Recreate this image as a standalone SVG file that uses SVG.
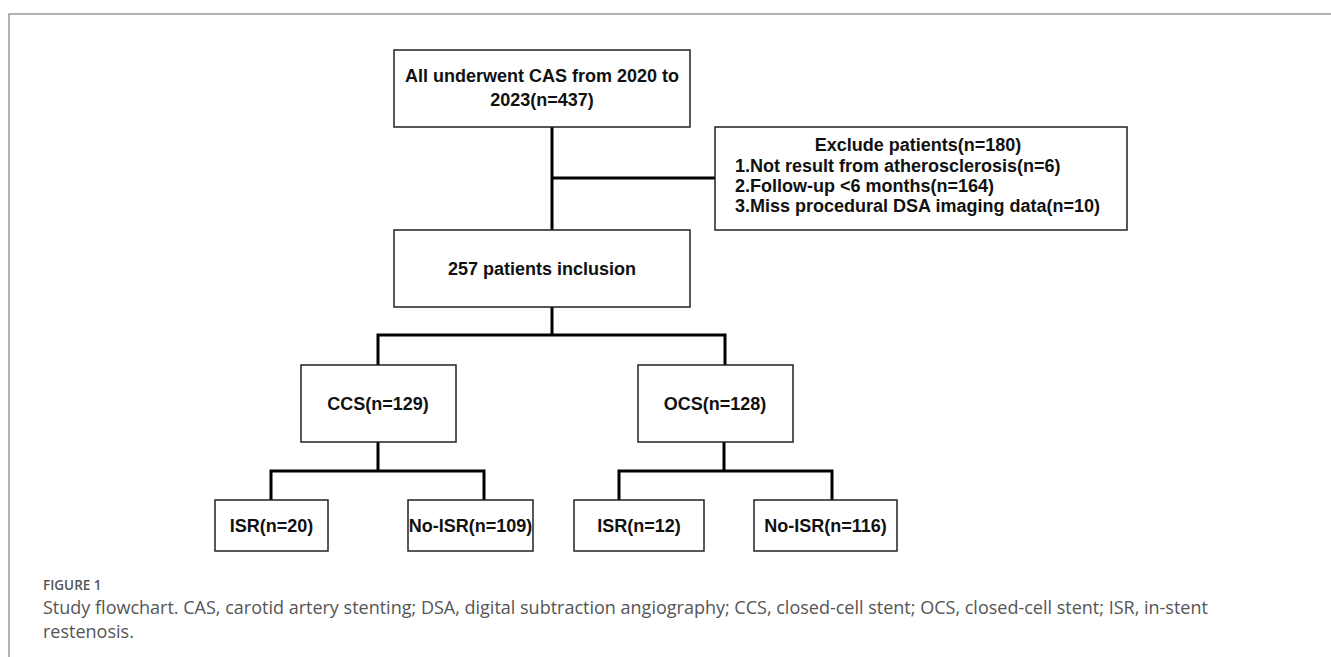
<svg xmlns="http://www.w3.org/2000/svg" width="1331" height="657" viewBox="0 0 1331 657">
<style>
.box{fill:#fff;stroke:#222;stroke-width:1.5}
.t{font-family:"Liberation Sans",Arial,sans-serif;font-weight:bold;font-size:18px;fill:#111}
.c{text-anchor:middle}
.conn{fill:none;stroke:#000;stroke-width:3;stroke-linecap:square}
.cap{font-family:"Open Sans","Noto Sans",sans-serif;fill:#555}
</style>
<rect width="1331" height="657" fill="#fff"/>
<path d="M9 657 V14 H1331" fill="none" stroke="#999" stroke-width="1.5"/>
<g id="connectors">
<path class="conn" d="M552 127 V230 M552 178 H715"/>
<path class="conn" d="M552 307 V335 M378 335 H725 M378 335 V365 M725 335 V365"/>
<path class="conn" d="M378 442 V471 M271 471 H484 M271 471 V500 M484 471 V500"/>
<path class="conn" d="M724 442 V471 M619 471 H832 M619 471 V500 M832 471 V500"/>
</g>
<g id="n-all">
<rect class="box" x="394" y="50" width="296" height="77"/>
<text class="t c" x="542" y="82">All underwent CAS from 2020 to</text>
<text class="t c" x="542" y="106">2023(n=437)</text>
</g>
<g id="n-exclude">
<rect class="box" x="715" y="127" width="412" height="103"/>
<text class="t c" x="918" y="151">Exclude patients(n=180)</text>
<text class="t" x="735" y="172">1.Not result from atherosclerosis(n=6)</text>
<text class="t" x="735" y="192">2.Follow-up &lt;6 months(n=164)</text>
<text class="t" x="735" y="212">3.Miss procedural DSA imaging data(n=10)</text>
</g>
<g id="n-incl">
<rect class="box" x="394" y="230" width="296" height="77"/>
<text class="t c" x="542" y="275">257 patients inclusion</text>
</g>
<g id="n-ccs">
<rect class="box" x="301" y="365" width="155" height="77"/>
<text class="t c" x="378" y="410">CCS(n=129)</text>
</g>
<g id="n-ocs">
<rect class="box" x="638" y="365" width="155" height="77"/>
<text class="t c" x="715" y="410">OCS(n=128)</text>
</g>
<g id="n-isr1">
<rect class="box" x="215" y="500" width="113" height="51"/>
<text class="t c" x="271.5" y="532">ISR(n=20)</text>
</g>
<g id="n-noisr1">
<rect class="box" x="408" y="500" width="125" height="51"/>
<text class="t c" x="470.5" y="532">No-ISR(n=109)</text>
</g>
<g id="n-isr2">
<rect class="box" x="574" y="500" width="130" height="51"/>
<text class="t c" x="639" y="532">ISR(n=12)</text>
</g>
<g id="n-noisr2">
<rect class="box" x="754" y="500" width="143" height="51"/>
<text class="t c" x="825.5" y="532">No-ISR(n=116)</text>
</g>
<g id="caption">
<text class="cap" x="43" y="590" font-size="13.5" font-weight="600" fill="#666">FIGURE 1</text>
<text class="cap" x="43" y="614" font-size="18">Study flowchart. CAS, carotid artery stenting; DSA, digital subtraction angiography; CCS, closed-cell stent; OCS, closed-cell stent; ISR, in-stent</text>
<text class="cap" x="43" y="638" font-size="18">restenosis.</text>
</g>
</svg>
